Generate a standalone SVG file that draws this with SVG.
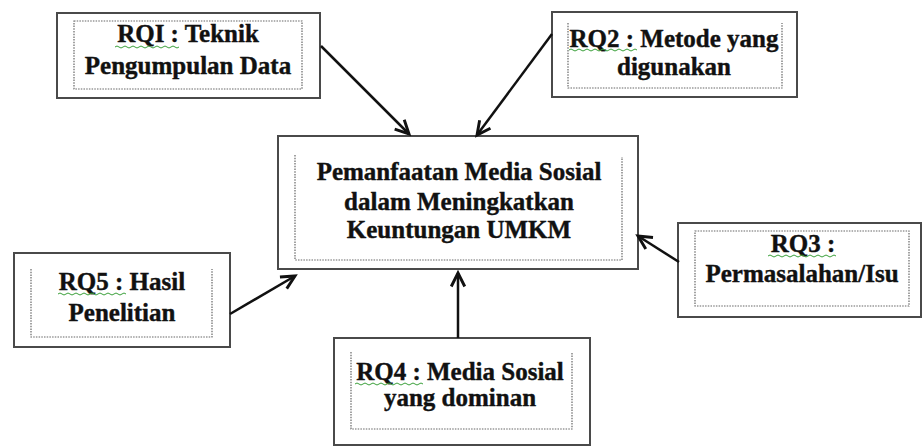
<svg xmlns="http://www.w3.org/2000/svg" width="922" height="447" viewBox="0 0 922 447">
<style>
.outer{fill:#fff;stroke:#4a4a4a;stroke-width:2}
.inner{fill:none;stroke:#666;stroke-width:1.2;stroke-dasharray:1.5 1.2}
.t{font-family:"Liberation Serif","Times New Roman",serif;font-weight:bold;font-size:25px;fill:#111;stroke:#111;stroke-width:0.4;text-anchor:middle}
.sq{fill:none;stroke:#3aa03a;stroke-width:1}
.conn line{stroke:#111;stroke-width:2.5;marker-end:url(#ah)}
</style>
<defs>
<marker id="ah" markerUnits="userSpaceOnUse" markerWidth="18" markerHeight="18" refX="13" refY="7" orient="auto" viewBox="0 0 16 14">
<path d="M1,1 L13,7 L1,13" fill="none" stroke="#111" stroke-width="2.6" stroke-linejoin="miter"/>
</marker>
</defs>
<rect width="922" height="447" fill="#fff"/>
<g id="rq1">
<rect class="outer" x="57" y="13" width="263" height="85"/>
<rect class="inner" x="74" y="21" width="228" height="68"/>
<text class="t" x="188" y="42">RQI : Teknik</text>
<text class="t" x="188" y="74">Pengumpulan Data</text>
<path class="sq" d="M115,47 q2,-2 4,0 t4,0 t4,0 t4,0 t4,0 t4,0 t4,0 t4,0 t4,0 t4,0 t4,0 t4,0 t4,0 t4,0 t4,0 t4,0"/>
</g>
<g id="rq2">
<rect class="outer" x="552" y="12" width="245" height="85"/>
<path class="inner" d="M568,23 V88 H782 V23"/>
<text class="t" x="674" y="47">RQ2 : Metode yang</text>
<text class="t" x="674" y="75">digunakan</text>
<path class="sq" d="M569,50 q2,-2 4,0 t4,0 t4,0 t4,0 t4,0 t4,0 t4,0 t4,0 t4,0 t4,0 t4,0 t4,0 t4,0 t4,0 t4,0 t4,0 t4,0"/>
</g>
<g id="center">
<rect class="outer" x="278" y="136" width="360" height="133"/>
<path class="inner" d="M295,155 V260 H622 V157"/>
<text class="t" x="459" y="180">Pemanfaatan Media Sosial</text>
<text class="t" x="459" y="210">dalam Meningkatkan</text>
<text class="t" x="459" y="238">Keuntungan UMKM</text>
</g>
<g id="rq3">
<rect class="outer" x="678" y="223" width="243" height="94"/>
<rect class="inner" x="695" y="231" width="214" height="75"/>
<text class="t" x="803" y="252">RQ3 :</text>
<text class="t" x="802" y="282">Permasalahan/Isu</text>
<path class="sq" d="M768,256 q2,-2 4,0 t4,0 t4,0 t4,0 t4,0 t4,0 t4,0 t4,0 t4,0 t4,0 t4,0 t4,0 t4,0 t4,0 t4,0 t4,0 t4,0"/>
</g>
<g id="rq5">
<rect class="outer" x="14" y="253" width="216" height="94"/>
<path class="inner" d="M31,269 V337 H212 V269"/>
<text class="t" x="122" y="290">RQ5 : Hasil</text>
<text class="t" x="122" y="321">Penelitian</text>
<path class="sq" d="M58,294 q2,-2 4,0 t4,0 t4,0 t4,0 t4,0 t4,0 t4,0 t4,0 t4,0 t4,0 t4,0 t4,0 t4,0 t4,0 t4,0 t4,0 t4,0"/>
</g>
<g id="rq4">
<rect class="outer" x="334" y="338" width="256" height="107"/>
<path class="inner" d="M351,352 V429 H572 V352"/>
<text class="t" x="460" y="380">RQ4 : Media Sosial</text>
<text class="t" x="460" y="406">yang dominan</text>
<path class="sq" d="M355,384 q2,-2 4,0 t4,0 t4,0 t4,0 t4,0 t4,0 t4,0 t4,0 t4,0 t4,0 t4,0 t4,0 t4,0 t4,0 t4,0 t4,0 t4,0"/>
</g>
<g id="connectors" class="conn">
<line x1="321" y1="46" x2="409" y2="134"/>
<line x1="552" y1="34" x2="477" y2="135"/>
<line x1="679" y1="262" x2="638" y2="236"/>
<line x1="230" y1="314" x2="295" y2="276"/>
<line x1="458" y1="338" x2="458" y2="273"/>
</g>
</svg>
